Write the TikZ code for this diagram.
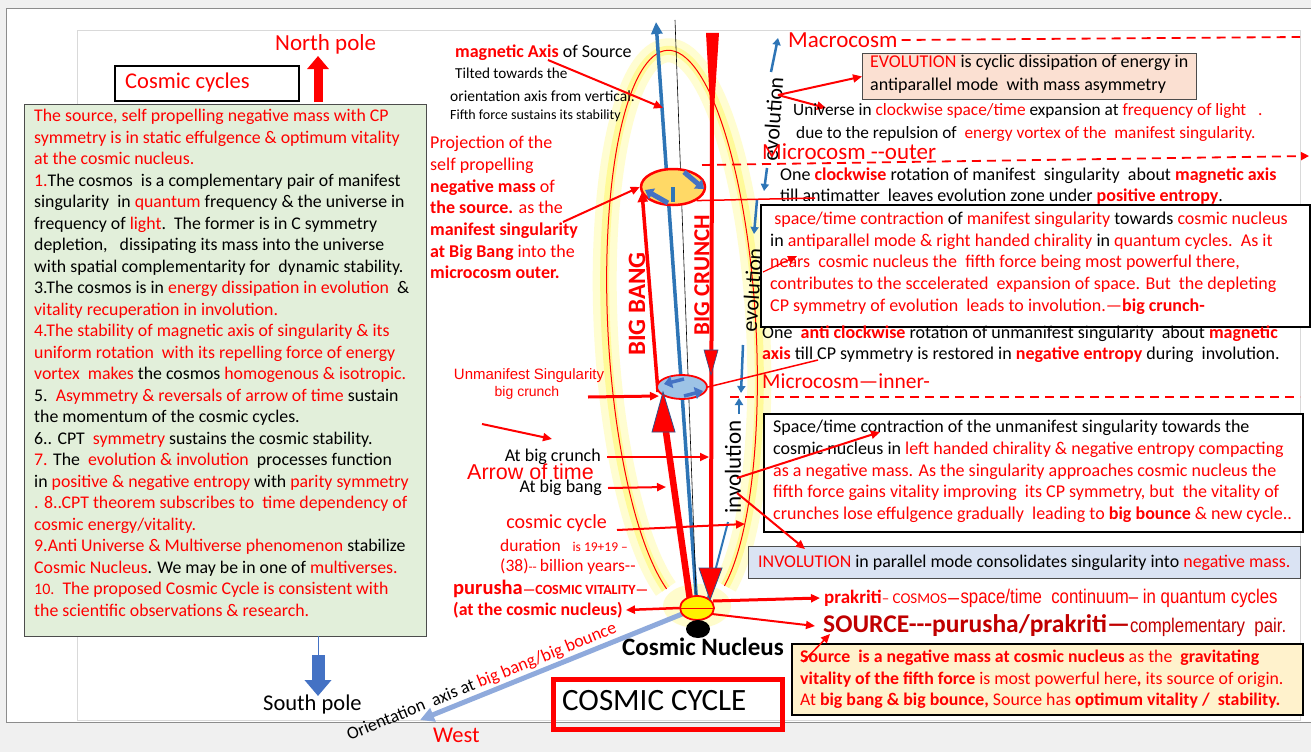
\documentclass[tikz,border=0pt]{standalone}
\usepackage{fontspec}
\setmainfont{Carlito}
\newfontfamily\arialfont{Liberation Sans}
\newfontfamily\narrowfont[FakeStretch=0.85]{Liberation Sans}
\usetikzlibrary{arrows.meta,shapes.geometric}
\definecolor{tred}{HTML}{FF0000}
\definecolor{dred}{HTML}{C00000}
\definecolor{axblue}{HTML}{2E75B6}
\definecolor{bkblue}{HTML}{4472C4}
\definecolor{ltblue}{HTML}{8FAADC}
\definecolor{boxgreen}{HTML}{E2EFDA}
\definecolor{boxsalmon}{HTML}{FBE0D2}
\definecolor{boxblue}{HTML}{DAE3F3}
\definecolor{boxyellow}{HTML}{FFF2CC}
\definecolor{singorange}{HTML}{FFD966}
\definecolor{singblue}{HTML}{9DC3E6}
\newcommand\rtxt[1]{\textcolor{tred}{#1}}
\newcommand\rbold[1]{\textcolor{tred}{\bfseries #1}}
\newcommand\fsz[2]{\fontsize{#1}{#2}\selectfont}
\begin{document}
\begin{tikzpicture}[x=1pt,y=-1pt,
    txt/.style={inner sep=0pt,anchor=west},
    blk/.style={inner sep=0pt,anchor=north west,align=left},
    panel/.style={draw=black!70,line width=1pt,anchor=north west},
    redarr/.style={draw=tred,line width=2pt,-{Triangle[length=9pt,width=8pt]}},
    bluearr/.style={draw=axblue,line width=2.5pt,-{Triangle[length=7pt,width=8pt]}},
    bluebk/.style={draw=bkblue,line width=5pt,-{Triangle[length=8pt,width=12pt]}},
    dashline/.style={draw=tred,line width=1.8pt,dash pattern=on 9pt off 6pt},
    sing/.style={ellipse,draw=tred,inner sep=0pt}]
\useasboundingbox (0,0) rectangle (1311,752);
\fill[black!6] (0,0) rectangle (1311,752);
\draw[black!45,fill=white] (6,8) rectangle (1311,722);
\draw[black!15] (77,30) rectangle (1300,720);

% glow and cycle outline
\begin{scope}[rotate around={3:(682,330)}]
\draw[yellow!18,line width=24pt] (682,330) ++(113:76 and 280) arc[start angle=113,end angle=427,x radius=76,y radius=280];
\draw[yellow!40,line width=9pt] (682,330) ++(113:76 and 280) arc[start angle=113,end angle=427,x radius=76,y radius=280];
\draw[tred,line width=1pt] (682,330) ++(113:74 and 280) arc[start angle=113,end angle=427,x radius=74,y radius=280];
\end{scope}
\fill[yellow!20] (697,606) ellipse [x radius=34,y radius=22];

% axes
\coordinate (nuc) at (697,608);
\coordinate (westtip) at (420,720);
\coordinate (magtop) at (656,22);
\draw[ltblue,line width=5pt,-{Triangle[length=14pt,width=14pt]}] (nuc) -- (westtip);
\draw[axblue,line width=3.5pt,-{Triangle[length=12pt,width=11pt]}] (nuc) -- (magtop);
\draw[black,line width=0.6pt] (675,20) -- (697,620);
\draw[axblue,line width=2pt] (728,522) -- (708,598);

% big crunch and big bang
\fill[tred] (706,33) -- (719,33) -- (712,140) -- cycle;
\draw[tred,line width=4pt] (712,100) -- (711,572);
\draw[tred,line width=6.5pt] (690,600) -- (665,425);
\draw[tred,line width=3.5pt,-{Triangle[length=10pt,width=10pt]}] (658,392) -- (642,192);

% singularities
\node[sing,line width=2.5pt,fill=singorange,minimum width=64pt,minimum height=36pt] (mani) at (673,187) {};
\draw[axblue,line width=3.5pt] (mani.center) -- ([yshift=-15pt]mani.center);
\node[sing,line width=1.8pt,fill=singblue,minimum width=50pt,minimum height=24pt] (unmani) at (682,387) {};
\node[sing,line width=1.8pt,fill=yellow,minimum width=34pt,minimum height=24pt] (nucleus) at (nuc) {};
\draw[tred,line width=1pt] (nucleus.west) -- (nucleus.east);
\node[ellipse,fill=black,inner sep=0pt,minimum width=24pt,minimum height=18pt] (core) at (698,629) {};
\filldraw[fill=tred,draw=bkblue!70!black,line width=0.8pt] (652,432) -- (675,432) -- (663,392) -- cycle;
\filldraw[fill=tred,draw=bkblue!70!black,line width=0.8pt] (699,568) -- (722,568) -- (710,600) -- cycle;
\filldraw[fill=tred,draw=bkblue!70!black,line width=0.6pt] (704,350) -- (718,350) -- (711,375) -- cycle;
\draw[bluebk] (684,172) -- (704,189);
\draw[bluebk] (668,203) -- (645,190);
\draw[bluebk,line width=3.5pt] (684,379) -- (664,384);
\draw[bluebk,line width=3.5pt] (684,396) -- (703,391);

\node[font=\fsz{25}{28}\bfseries,text=tred,rotate=90,inner sep=0pt] (bang) at (637,304) {BIG BANG};
\node[font=\fsz{23}{26}\bfseries,text=tred,rotate=90,inner sep=0pt] (crunch) at (702,275) {BIG CRUNCH};
\node[font=\fsz{25}{28}\bfseries,inner sep=0pt] (nuclbl) at (703,647) {Cosmic Nucleus};

% poles and left panel
\node[txt,font=\fsz{23}{26},text=tred] (north) at (275,44) {North pole};
\coordinate (npbase) at (318,102);
\coordinate (nptip) at (318,56);
\draw[tred,line width=9pt,-{Triangle[length=13pt,width=21pt]}] (npbase) -- (nptip);
\node[panel,draw=black,line width=2pt,minimum width=184pt,minimum height=35pt] (cyclesbox) at (114,65) {};
\node[txt,font=\fsz{22.5}{26},text=tred] (cycles) at (125,83) {Cosmic cycles};
\node[panel,fill=boxgreen,minimum width=402pt,minimum height=532pt] (notesbox) at (24,104) {};
\node[blk,font=\fsz{17.8}{21.5}] (notes) at (34,109) {\rtxt{The source, self propelling negative mass with CP}\\
\rtxt{symmetry is in static effulgence \& optimum vitality}\\
\rtxt{at the cosmic nucleus.}\\
\rtxt{1.}The cosmos\ \ is a complementary pair of manifest\\
singularity\ \ in \rtxt{quantum} frequency \& the universe in\\
frequency of \rtxt{light}.\ \ The former is in C symmetry\\
depletion,\ \ \ dissipating its mass into the universe\\
with spatial complementarity for\ \ dynamic stability.\\
3.The cosmos is in \rtxt{energy dissipation in evolution}\ \ \&\\
\rtxt{vitality recuperation in involution.}\\
\rtxt{4.The stability of magnetic axis of singularity \& its}\\
\rtxt{uniform rotation\ \ with its repelling force of energy}\\
\rtxt{vortex\ \ makes} the cosmos \rtxt{homogenous \& isotropic.}\\
5.\ \ \rtxt{Asymmetry \& reversals of arrow of time} sustain\\
the momentum of the cosmic cycles.\\
6.. CPT\ \ \rtxt{symmetry} sustains the cosmic stability.\\
\rtxt{7.} The\ \ \rtxt{evolution \& involution}\ \ processes function\\
in \rtxt{positive \& negative entropy} with \rtxt{parity symmetry}\\
\rtxt{. 8..CPT theorem subscribes to\ \ time dependency of}\\
\rtxt{cosmic energy/vitality.}\\
\rtxt{9.Anti Universe \& Multiverse phenomenon} stabilize\\
\rtxt{Cosmic Nucleus}. We may be in one of \rtxt{multiverses.}\\
\rtxt{{\fsz{16}{21.5}10.}\ \ The proposed Cosmic Cycle is consistent with}\\
\rtxt{the scientific observations \& research.}};
\coordinate (spbase) at (318,636);
\coordinate (sptip) at (318,696);
\draw[bkblue,line width=1pt] (spbase) -- (318,656);
\draw[bkblue,line width=13pt,-{Triangle[length=16pt,width=26pt]}] (318,655) -- (sptip);
\node[txt,font=\fsz{22.5}{26}] (south) at (263,704) {South pole};

% bottom
\node[font=\fsz{17.8}{20},rotate=22,inner sep=0pt] (orient) at (482,682) {Orientation\ \ axis at \rtxt{big bang/big bounce}};
\node[txt,font=\fsz{22.5}{26},text=tred] (west) at (433,735) {West};
\node[panel,draw=tred,line width=5pt,minimum width=229pt,minimum height=50pt] (titlebox) at (551,677) {};
\node[txt,font=\fsz{31}{34}] (title) at (562,701) {COSMIC CYCLE};

% labels left of the axis
\node[txt,font=\fsz{18}{20}] (magax) at (455,53) {\rbold{magnetic Axis} of Source};
\node[txt,font=\fsz{15.2}{18}] (tilt) at (455,73) {Tilted towards the};
\node[txt,font=\fsz{15.5}{18}] (orax) at (450,96) {orientation axis from vertical.};
\node[txt,font=\fsz{14}{16}] (fifth) at (450,116) {Fifth force sustains its stability};
\coordinate (magfrom) at (548,60);
\coordinate (magto) at (663,108);
\draw[redarr] (magfrom) -- (magto);
\node[blk,font=\fsz{18}{21.7},text=tred] (proj) at (430,136) {Projection of the\\
self propelling\\
\textbf{negative mass} of\\
\textbf{the source.} as the\\
\textbf{manifest singularity}\\
\textbf{at Big Bang} into the\\
\textbf{microcosm outer.}};
\coordinate (projfrom) at (563,222);
\draw[redarr] (projfrom) -- (mani.west);
\node[font=\arialfont\fsz{15}{18},text=tred,inner sep=0pt] (unmlbl) at (529,376) {Unmanifest Singularity};
\node[font=\arialfont\fsz{14}{16},text=tred,inner sep=0pt] (bigcr) at (527,393) {big crunch};
\coordinate (unmfrom) at (588,397);
\coordinate (unmto) at (659,396);
\draw[redarr,line width=3pt] (unmfrom) -- (unmto);
\coordinate (timefrom) at (482,424);
\coordinate (timeto) at (552,439);
\draw[redarr] (timefrom) -- (timeto);
\node[txt,anchor=east,font=\fsz{18}{20}] (atcr) at (601,457) {At big crunch};
\node[txt,font=\arialfont\fsz{21.5}{24},text=tred] (arrowtime) at (467,472) {Arrow of time};
\node[txt,anchor=east,font=\fsz{18}{20}] (atbb) at (602,488) {At big bang};
\coordinate (crto) at (709,457);
\coordinate (bbto) at (666,487);
\draw[redarr] ([xshift=6pt]atcr.east) -- (crto);
\draw[redarr] ([xshift=6pt]atbb.east) -- (bbto);
\node[txt,anchor=east,font=\fsz{20}{22},text=tred] (cyc) at (607,523) {cosmic cycle};
\coordinate (cycfrom) at (617,530);
\coordinate (cycto) at (745,524);
\draw[redarr] (cycfrom) -- (cycto);
\node[txt,text=tred] (dur) at (500,545) {\fsz{17.5}{20}duration\ \ \ \fsz{13.5}{16}is 19+19 –};
\node[txt,text=tred] (bil) at (500,567) {\fsz{17.5}{20}(38)\fsz{13.5}{16}-{}- \fsz{17.5}{20}billion years-{}-};
\node[txt,text=tred] (puru) at (453,589) {\fsz{20.5}{22}\bfseries purusha\fsz{14}{16}—COSMIC VITALITY—};
\node[txt,text=tred,font=\fsz{17.8}{20}\bfseries] (atnuc) at (453,610) {(at the cosmic nucleus)};
\draw[redarr,line width=2.5pt] (nucleus.west) -- ([xshift=3pt]atnuc.east);

% right side
\node[font=\fsz{22}{24},rotate=86,inner sep=0pt] (evo) at (773,119) {evolution};
\draw[bluearr] (771,72) -- (778,38);
\draw[bluearr] (767,168) -- (764,191);
\draw[bluearr] (757,200) -- (754,234);
\node[font=\fsz{22}{24},rotate=86,inner sep=0pt] (evob) at (752,290) {evolution};
\draw[bluearr] (743,345) -- (741,393);
\draw[bluearr] (739,414) -- (739,398);
\node[font=\fsz{23}{26},rotate=90,inner sep=0pt] (invo) at (733,467) {involution};

\node[txt,font=\fsz{23}{26},text=tred] (macro) at (788,40) {Macrocosm};
\draw[dashline] ([xshift=4pt]macro.east) -- (1300,37);
\node[panel,fill=boxsalmon,minimum width=334pt,minimum height=46pt] (evobox) at (862,53) {};
\node[blk,font=\fsz{18}{23}] (evotxt) at (870,55) {\rtxt{EVOLUTION} is cyclic dissipation of energy in\\antiparallel mode\ \ with mass asymmetry};
\coordinate (evofrom) at (778,95);
\draw[redarr] (evofrom) -- (evobox.west);
\coordinate (univto) at (826,108);
\draw[redarr] (evofrom) -- (univto);
\node[txt,font=\fsz{17.3}{20}] (univ) at (793,111) {Universe in \rtxt{clockwise space/time} expansion at \rtxt{frequency of light}\ \ \ \rtxt{.}};
\node[txt,font=\fsz{17.3}{20}] (repul) at (796,134) {due to the repulsion of\ \ \rtxt{energy vortex of the\ \ manifest singularity.}};
\node[txt,font=\fsz{23}{26},text=tred] (microout) at (762,152) {Microcosm -{}-outer};
\coordinate (outfrom) at (702,165);
\coordinate (outto) at (1309,156);
\draw[dashline,-{Triangle[length=8pt,width=8pt]}] (outfrom) -- (outto);
\node[txt,font=\fsz{18}{20}] (rotcw) at (780,176) {One \rbold{clockwise} rotation of manifest\ \ singularity\ \ about \rbold{magnetic axis}};
\node[txt,font=\fsz{18}{20}] (anti) at (780,197) {till antimatter\ \ leaves evolution zone under \rbold{positive entropy}.};
\coordinate (maniline) at (815,198);
\draw[tred,line width=1.5pt] (mani.south east) -- (maniline);

\node[panel,draw=black,line width=2pt,fill=white,minimum width=549pt,minimum height=122pt] (crunchbox) at (760,204) {};
\node[blk,font=\fsz{18}{21.6},text=tred] (crunchtxt) at (770,212) {\ space/time contraction \textcolor{black}{of} manifest singularity \textcolor{black}{towards} cosmic nucleus\\
\textcolor{black}{in} antiparallel mode \& right handed chirality \textcolor{black}{in} quantum cycles.\ \ As it\\
nears\ \ cosmic nucleus the\ \ fifth force being most powerful there,\\
contributes to the sccelerated\ \ expansion of space. But\ \ the depleting\\
CP symmetry of evolution\ \ leads to involution.—\textbf{big crunch-}};
\coordinate (chirfrom) at (763,272);
\coordinate (chirto) at (797,256);
\draw[redarr,line width=1.2pt] (chirfrom) -- (chirto);
\node[txt,font=\fsz{18}{20}] (rotacw) at (762,334) {One\ \ \rbold{anti clockwise} rotation of unmanifest singularity\ \ about \rbold{magnetic}};
\node[txt,font=\fsz{18}{20}] (restore) at (762,355) {\rbold{axis} till CP symmetry is restored in \rbold{negative entropy} during\ \ involution.};
\coordinate (unmline) at (818,360);
\draw[tred,line width=1.5pt] (unmani.east) -- (unmline);
\node[txt,font=\fsz{21.5}{24},text=tred] (microin) at (762,381) {Microcosm—inner-};
\coordinate (infrom) at (730,397);
\coordinate (into) at (1300,397);
\draw[dashline] (infrom) -- (into);

\node[panel,draw=black,line width=2pt,fill=white,minimum width=539pt,minimum height=118pt] (bouncebox) at (763,413) {};
\node[blk,font=\fsz{18}{21.7}] (bouncetxt) at (773,420) {Space/time contraction of the unmanifest singularity towards the\\
cosmic nucleus in \rtxt{left handed chirality \& negative entropy compacting}\\
\rtxt{as a negative mass. As the singularity approaches cosmic nucleus the}\\
\rtxt{fifth force gains vitality improving\ \ its CP symmetry, but\ \ the vitality of}\\
\rtxt{crunches lose effulgence gradually\ \ leading to \textbf{big bounce} \& new cycle..}};
\node[panel,fill=boxblue,minimum width=552pt,minimum height=32pt] (invbox) at (748,546) {};
\node[txt,font=\fsz{17.9}{20}] (invtxt) at (758,563) {\rtxt{INVOLUTION} in parallel mode consolidates singularity into \rtxt{negative mass.}};
\coordinate (invfrom) at (737,478);
\coordinate (invto) at (880,432);
\coordinate (invfromb) at (737,493);
\coordinate (invtob) at (805,549);
\draw[redarr] (invfrom) -- (invto);
\draw[redarr] (invfromb) -- (invtob);

% source and prakriti
\node[txt,text=tred] (prak) at (824,598) {\fsz{19}{22}\textbf{prakriti}\fsz{15}{18}– COSMOS\textbf{—}\narrowfont\fsz{19.8}{22}space/time\ \ continuum– in quantum cycles};
\node[txt,text=dred] (srcline) at (823,626) {\fsz{25.5}{28}\bfseries SOURCE-{}-{}-purusha/prakriti—\mdseries\narrowfont\fsz{19.8}{22}complementary\ \ pair.};
\coordinate (prakfrom) at (713,601);
\coordinate (srcfrom) at (712,614);
\draw[redarr,line width=3pt] (prakfrom) -- ([xshift=-4pt]prak.west);
\draw[redarr] (srcfrom) -- ([xshift=-8pt]srcline.west);
\node[panel,draw=black,line width=1.8pt,fill=boxyellow,minimum width=511pt,minimum height=71pt] (srcbox) at (791,643) {};
\node[blk,font=\fsz{17.8}{21.5},text=tred] (srctxt) at (800,650) {\textbf{Source\ \ is a negative mass at cosmic nucleus} as the\ \ \textbf{gravitating}\\
\textbf{vitality of the fifth force} is most powerful here\textbf{,} its source of origin.\\
At \textbf{big bang \& big bounce,} Source has \textbf{optimum vitality /\ \ stability.}};
\coordinate (srcarfrom) at (803,662);
\coordinate (srcarto) at (830,634);
\draw[redarr,line width=1.5pt] (srcarfrom) -- (srcarto);
\end{tikzpicture}
\end{document}
